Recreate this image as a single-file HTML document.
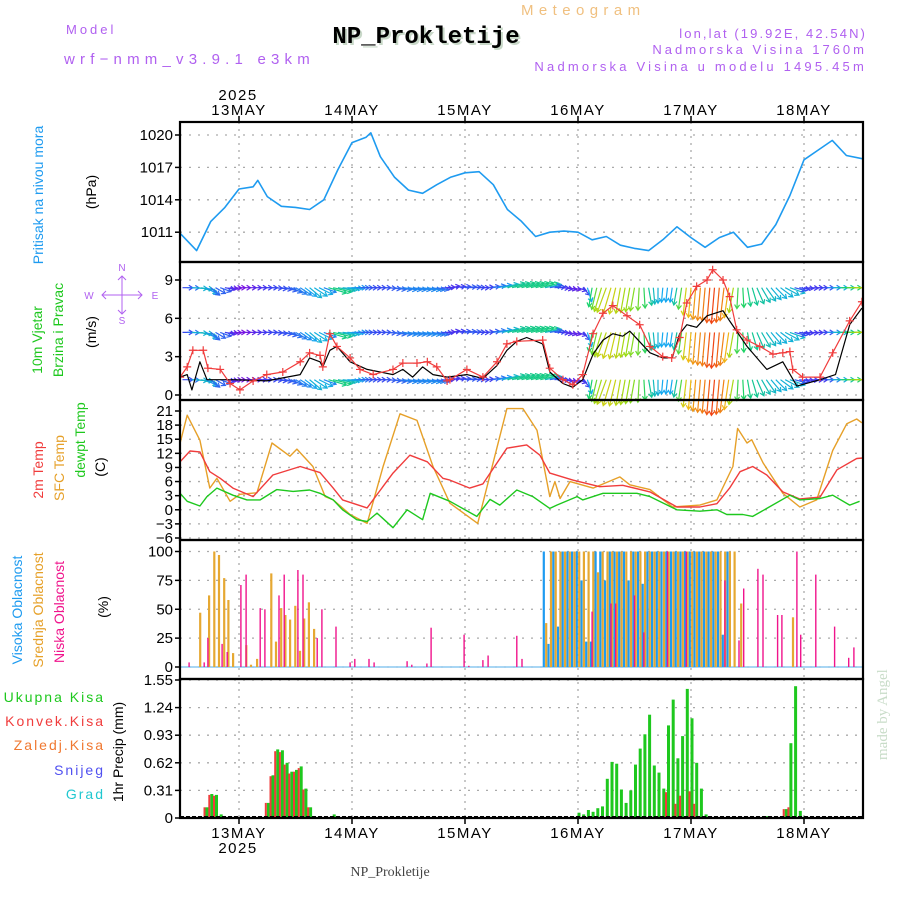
<!DOCTYPE html>
<html><head><meta charset="utf-8"><style>
html,body{margin:0;padding:0;background:#fff;}
svg{display:block;font-family:"Liberation Sans",sans-serif;}
</style></head><body>
<svg id="chart" width="900" height="900" viewBox="0 0 900 900">
<defs><clipPath id="plotclip"><rect x="180" y="122" width="683" height="696"/></clipPath></defs>
<g>
<text x="66" y="34" font-size="13" fill="#b060f0" letter-spacing="3">Model</text>
<text x="64" y="64" font-size="15" fill="#b060f0" letter-spacing="5.2">wrf−nmm_v3.9.1 e3km</text>
<text x="521" y="15" font-size="15" fill="#f0c080" letter-spacing="5.4">Meteogram</text>
<text x="428" y="45" font-size="24" font-weight="bold" text-anchor="middle" fill="#c8d8c8" font-family="Liberation Mono, monospace">NP_Prokletije</text>
<text x="426" y="43" font-size="24" font-weight="bold" text-anchor="middle" fill="#000" font-family="Liberation Mono, monospace">NP_Prokletije</text>
<text x="867" y="38" font-size="13" fill="#b060f0" text-anchor="end" letter-spacing="2.1">lon,lat (19.92E, 42.54N)</text>
<text x="867" y="54" font-size="13" fill="#b060f0" text-anchor="end" letter-spacing="3">Nadmorska Visina 1760m</text>
<text x="867" y="71" font-size="13" fill="#b060f0" text-anchor="end" letter-spacing="3.2">Nadmorska Visina u modelu 1495.45m</text>
<text x="238" y="100" font-size="15" fill="#000" text-anchor="middle" letter-spacing="1.5">2025</text>
<text x="238" y="853" font-size="15" fill="#000" text-anchor="middle" letter-spacing="1.5">2025</text>
<text x="390" y="876" font-size="14" fill="#444" text-anchor="middle" font-family="Liberation Serif, serif">NP_Prokletije</text>
<text transform="translate(887,760) rotate(-90)" font-size="15" fill="#c8dcc8" font-family="Liberation Serif, serif">made by Angel</text>
</g>
<g>
<text transform="translate(43,195) rotate(-90)" font-size="14" fill="#1e9bf0" text-anchor="middle">Pritisak na nivou mora</text>
<text transform="translate(96,192) rotate(-90)" font-size="14" fill="#000" text-anchor="middle">(hPa)</text>
<text transform="translate(42,340) rotate(-90)" font-size="14" fill="#1ec81e" text-anchor="middle">10m Vjetar</text>
<text transform="translate(63,330) rotate(-90)" font-size="14" fill="#1ec81e" text-anchor="middle">Brzina i Pravac</text>
<text transform="translate(96,332) rotate(-90)" font-size="14" fill="#000" text-anchor="middle">(m/s)</text>
<g fill="#b060f0" font-size="10" text-anchor="middle">
<text x="122" y="271">N</text><text x="122" y="324">S</text><text x="89" y="299">W</text><text x="155" y="299">E</text>
<path d="M122 276 V314 M102 295 H142 M118 280 L122 276 L126 280 M118 310 L122 314 L126 310 M106 291 L102 295 L106 299 M138 291 L142 295 L138 299" stroke="#b060f0" stroke-width="1" fill="none"/>
</g>
<text transform="translate(43,470) rotate(-90)" font-size="14" fill="#f03c3c" text-anchor="middle">2m Temp</text>
<text transform="translate(64,468) rotate(-90)" font-size="14" fill="#e6a028" text-anchor="middle">SFC Temp</text>
<text transform="translate(85,440) rotate(-90)" font-size="14" fill="#1ec81e" text-anchor="middle">dewpt Temp</text>
<text transform="translate(105,467) rotate(-90)" font-size="14" fill="#000" text-anchor="middle">(C)</text>
<text transform="translate(22,610) rotate(-90)" font-size="14" fill="#1e9bf0" text-anchor="middle">Visoka Oblacnost</text>
<text transform="translate(43,610) rotate(-90)" font-size="14" fill="#e6a028" text-anchor="middle">Srednja Oblacnost</text>
<text transform="translate(64,612) rotate(-90)" font-size="14" fill="#f0148c" text-anchor="middle">Niska Oblacnost</text>
<text transform="translate(108,607) rotate(-90)" font-size="14" fill="#000" text-anchor="middle">(%)</text>
<text x="105" y="702" font-size="14" fill="#1ec81e" text-anchor="end" letter-spacing="2">Ukupna  Kisa</text>
<text x="105" y="726" font-size="14" fill="#f03c3c" text-anchor="end" letter-spacing="2">Konvek.Kisa</text>
<text x="105" y="750" font-size="14" fill="#f07830" text-anchor="end" letter-spacing="2">Zaledj.Kisa</text>
<text x="105" y="775" font-size="14" fill="#5050f0" text-anchor="end" letter-spacing="2">Snijeg</text>
<text x="105" y="799" font-size="14" fill="#20c8d0" text-anchor="end" letter-spacing="2">Grad</text>
<text transform="translate(123,752) rotate(-90)" font-size="14" fill="#000" text-anchor="middle">1hr Precip (mm)</text>
</g>
</svg>
<script>
// ---- data ----
const dayHours = [0,24,48,72,96,120];
const dayLabels = ["13MAY","14MAY","15MAY","16MAY","17MAY","18MAY"];
const pTicks = [1011,1014,1017,1020];
const wTicks = [0,3,6,9];
const tTicks = [-6,-3,0,3,6,9,12,15,18,21];
const cTicks = [0,25,50,75,100];
const rTicks = [0,0.31,0.62,0.93,1.24,1.55];

const pressT = [-12.5,-9,-6,-3,0,3,4,6,9,12,15,18,21,24,27,28,30,33,36,39,42,45,48,51,54,57,60,63,66,69,72,75,78,81,84,87,90,93,96,99,102,105,108,111,114,117,120,123,126,129,132.5];
const pressV = [1010.9,1009.3,1012,1013.3,1015,1015.2,1015.8,1014.3,1013.4,1013.3,1013.1,1014,1016.8,1019.3,1019.8,1020.2,1018,1016.1,1014.9,1014.6,1015.4,1016.1,1016.5,1016.6,1015.4,1013.1,1012,1010.6,1011,1011.1,1011,1010.3,1010.6,1009.8,1009.5,1009.3,1010.3,1011.5,1010.5,1009.6,1010.5,1011,1009.6,1009.9,1011.7,1014.4,1017.7,1018.6,1019.5,1018.1,1017.8];

const windT = [-12.5,-11,-9.8,-7.6,-6.6,-4,-1.9,0.2,3,5.9,9.3,13,15,17.2,17.8,19.3,20.8,23.6,25.7,28.5,32.7,34.8,37.8,40,42,44.2,44.8,48.4,51.8,54.8,56.9,59,64.5,66,68.8,70.9,73,75.2,77.3,79.4,82.4,85.1,87.3,90,91.9,93.6,95.1,97.2,99.4,100.6,102.8,104.2,105.7,107.9,110.6,113.4,115.5,117,117.6,119.7,123.4,126.1,129.7,132.3];
const windV = [1.4,2.2,3.5,3.5,2.1,2.0,0.9,0.4,1.1,1.6,1.8,2.6,3.3,3.1,2.2,4.8,3.8,2.9,2.0,1.6,2.0,2.5,2.5,2.6,2.2,1.1,1.2,2.0,1.4,2.6,4.0,4.2,4.3,2.1,1.2,0.8,1.6,4.8,6.4,7.0,6.2,5.5,3.8,3.0,2.9,4.5,7.2,8.5,9.0,9.8,9.0,7.7,5.1,4.3,3.8,3.2,3.3,3.4,2.0,1.4,1.4,3.3,5.8,7.3];
const wind2T = [-12.5,-11,-10,-8.3,-6.8,-1.3,5.9,13,15,17.2,17.8,19.3,20.8,23.6,27.2,32.7,34.8,36.9,39,41.2,44.2,48.4,51.8,54.8,56.9,59,61.1,64.5,66,68.8,70.9,73,75.2,77.3,79.4,81.5,83,87.3,90,92,93.6,95.1,97.2,99.4,102.8,104.2,107.9,112.1,115.5,118.5,123.4,126.7,129.7,132.3];
const wind2V = [1.4,1.6,0.4,2.6,1.2,1.2,1.1,1.6,2.9,2.6,2.2,3.5,3.8,2.6,2.0,1.6,2.0,1.4,2.2,1.6,1.4,1.6,1.3,2.3,3.5,4.2,4.5,4.0,1.8,0.9,0.6,1.2,3.2,4.3,4.8,4.6,5.0,3.3,2.9,2.9,4.8,5.5,5.3,6.2,6.6,5.8,3.8,2.0,2.6,0.7,1.2,1.6,5.5,6.8];
const dirT = [-12,-9,-6,-3,0,3,6,9,12,15,18,21,24,27,30,33,36,39,42,45,48,51,54,57,60,63,66,69,72,75,78,81,84,87,90,93,96,99,102,105,108,111,114,117,120,123,126,129,132];
const dirV = [0,5,40,10,0,0,0,10,30,40,20,10,0,0,0,10,10,10,10,-10,-5,0,-10,-15,-15,-15,-10,10,20,100,110,100,100,80,95,100,95,95,95,100,80,60,45,20,5,0,0,0,0];
const arrowRows = [8.4,4.9,1.2];

const t2mT = [-12.5,-10.4,-8.3,-6.2,-4,-1.3,3,7.2,13,17.2,20,22,27.2,32.7,36.3,40,43.3,44.8,49,51.8,56.9,61.1,63.9,66,70.9,76.6,81.5,87.3,93,97.9,101.5,104.2,106.4,109.1,112.1,115.5,119.1,123.4,127,131.2,132.5];
const t2mV = [10.2,12.5,12.3,8.1,6.7,4.6,2.8,7.4,9.2,7.9,4.6,2.1,0.4,7.8,11.6,10.2,6.7,6.3,4.6,5.5,13.1,13.8,11.6,7.8,6.3,4.9,5.2,3.8,0.6,0.6,1.3,4.6,8.1,9.2,7.4,3.8,2.3,2.7,8.5,10.9,11];
const sfcT = [-12.5,-11,-8.3,-6.2,-4.7,-1.9,0.2,3.8,7,10.8,12.3,15.7,18.3,20,23.6,27.2,30.6,34.2,37.8,41.2,44.8,50.7,56.9,60.3,63.3,66,67.1,68.2,70.3,75.2,80.9,83,87.3,92.1,97.9,101.5,104.9,105.9,107.9,108.9,111.3,115.5,119.1,122.7,126.1,129.1,131.2,132.3];
const sfcV = [14.2,20.1,14.8,4.6,6.7,1.8,3.3,3.6,14.2,11.4,12.9,9.2,2.8,2.1,-1,-2.9,9.2,20.4,19,9.2,1.4,-2.9,21.5,21.5,16.9,2.8,6,2.4,6,4.6,7,5.3,4.3,0.6,1,2.1,9.2,17.3,14.2,14.9,10,3.5,0.6,2.1,12.6,18.3,19.3,18.5];
const dewT = [-12.5,-11,-8.3,-6.8,-4.7,-1.3,1.7,4.5,8,11.5,15,17.2,20,22,25,27.2,29.3,32.7,35.7,39,40.6,44.8,50.5,53.3,55.4,59,62.4,66,67.5,71.8,73,77.3,84.5,87.3,93,97.9,101.5,103.6,107,109.1,112.1,117,119.1,123.4,126.1,129.7,131.8];
const dewV = [3.5,1.8,0.8,2.8,4.6,3.1,2.1,2.1,4.3,3.9,4.2,3.5,2.1,0,-2.1,-2.5,-0.7,-3.8,0,-2.1,3.5,1.8,-1.4,2.2,1,4.2,2.8,0.3,1,2.8,2.1,3.5,3.5,2.8,0,-0.3,0,-1,-1,-1.4,0.3,3.1,2.1,2.4,3.1,1,1.8];

const highT = [65,66,67,68,69,70,71,72,73,74,75,76,77,78,79,80,81,82,83,84,85,86,87,88,89,90,91,92,93,94,95,96,97,98,99,100,101,102,103,104];
const highV = [100,20,100,35,100,100,100,100,75,22,22,100,100,75,100,100,100,100,75,100,100,72,100,100,100,100,100,100,100,100,100,100,100,100,100,100,100,100,28,100];
const midT = [-8.5,-6.6,-5.5,-4.5,-3.4,-2.5,-1.5,1.3,2.3,3.6,6.6,7.6,8.7,9.6,10.6,11.7,12.7,13.6,14.6,15.7,65,66,67,68,69,70,71,72,73,74,75,76,77,78,79,80,81,82,83,84,85,86,87,88,89,90,91,92,93,94,95,96,97,98,99,100,101,102,103,104,105,106.4,117.4];
const midV = [47,62,100,97,77,58,12,19,2,7,81,22,51,45,41,53,14,42,56,33,38,100,100,100,100,100,100,100,100,100,100,82,100,100,100,100,100,100,100,100,100,100,100,100,100,100,100,100,100,100,100,100,100,100,100,100,100,100,100,100,100,55,43];
const lowT = [-10.6,-7.4,-6.6,-3.6,-2.5,0.4,1.5,4.5,5.5,8.5,9.6,12.5,13.6,16.6,17.6,20.6,23.6,24.6,27.6,28.7,35.7,36.7,39.9,40.8,47.8,48.8,51.8,52.9,59,60.1,75,79,80,84,86,91,95,103.2,106.2,107.2,110.2,111.3,114.4,115.3,118.5,119.3,122.5,126.5,129.5,130.6];
const lowV = [4,4,25,20,13,71,80,51,50,62,80,84,80,25,50,35,4,7,7,4,5,2,3,34,28,1,6,10,27,7,48,55,55,62,30,100,100,75,23,68,85,80,45,45,100,28,80,35,8,17];

const rainT = [-7,-6,-5,-4,6,7,8,9,10,11,12,13,14,15,20,72,73,74,75,76,77,78,79,80,81,82,83,84,85,86,87,88,89,90,91,92,93,94,95,96,97,98,99,101,112,116,117,118,119,120];
const rainV = [0.12,0.27,0.26,0.04,0.17,0.48,0.77,0.76,0.62,0.52,0.54,0.58,0.33,0.12,0.04,0.06,0.04,0.09,0.07,0.11,0.13,0.44,0.63,0.61,0.32,0.17,0.31,0.6,0.78,0.94,1.16,0.59,0.51,0.33,1.04,1.33,0.67,0.92,1.45,1.12,0.62,0.33,0.04,0.01,0.02,0.1,0.84,1.48,0.08,0.02];
const convT = [-7,-6,-5,6,7,8,9,10,11,12,13,14,15,91,93,94,96,97,116,117];
const convV = [0.12,0.26,0.25,0.17,0.47,0.75,0.74,0.6,0.5,0.52,0.56,0.32,0.12,0.29,0.16,0.25,0.3,0.16,0.1,0.12];

// ---- scales ----
const X0 = 239, PXH = 113/24, LEFT = 180, RIGHT = 863;
function xt(t){ return X0 + t*PXH; }
function lin(v0,y0,v1,y1){ return v => y0 + (v - v0)*(y1 - y0)/(v1 - v0); }
const yP = lin(1011,232.2,1020,135);
const yW = lin(0,395,9,280);
const yT = lin(-6,538,21,411);
const yC = lin(0,667,100,551.5);
const yR = lin(0,818,1.55,680);
const panels = [[122,262],[262,400],[400,540],[540,679],[679,818]];

const NS = "http://www.w3.org/2000/svg";
const svg = document.getElementById("chart");
function mk(tag, attrs, parent){
  const el = document.createElementNS(NS, tag);
  for (const k in attrs) el.setAttribute(k, attrs[k]);
  (parent || svg).appendChild(el);
  return el;
}
function interp(ts, vs, t){
  if (t <= ts[0]) return vs[0];
  for (let i = 1; i < ts.length; i++) if (t <= ts[i]) { const f = (t - ts[i-1])/(ts[i]-ts[i-1]); return vs[i-1] + f*(vs[i]-vs[i-1]); }
  return vs[vs.length-1];
}

// ---- grid ----
const grid = mk("g", {});


function hgrid(ticks, sc, fmt, name){
  ticks.forEach(v => {
    const y = sc(v);
    const l = mk("line", {x1:LEFT, x2:RIGHT, y1:y, y2:y, stroke:"#aaa", "stroke-width":1.3, "stroke-dasharray":"2,7"}, grid);
    
    
    const tk = mk("line", {x1:LEFT-5, x2:LEFT, y1:y, y2:y, stroke:"#000", "stroke-width":1.5}, grid);
    
    
    const tx = mk("text", {x:LEFT-7, y:y+5, "font-size":15, "text-anchor":"end", fill:"#000"}, grid);
    
    
    tx.textContent = fmt(v);
  });
}
hgrid(pTicks, yP, v => String(v), "pressure");
hgrid(wTicks, yW, v => String(v), "wind");
hgrid(tTicks, yT, v => v < 0 ? "−" + Math.abs(v) : String(v), "temp");
hgrid(cTicks, yC, v => String(v), "cloud");
hgrid(rTicks, yR, v => v === 0 ? "0" : v.toFixed(2), "precip");
dayHours.forEach((h, i) => {
  const x = xt(h);
  const l = mk("line", {x1:x, x2:x, y1:122, y2:818, stroke:"#aaa", "stroke-width":1.3, "stroke-dasharray":"2,5"}, grid);
  
  
  const t1 = mk("line", {x1:x, x2:x, y1:116, y2:122, stroke:"#000", "stroke-width":1.5}, grid);
  
  
  const t2 = mk("line", {x1:x, x2:x, y1:818, y2:824, stroke:"#000", "stroke-width":1.5}, grid);
  
  
  const a = mk("text", {x:x, y:115, "font-size":15, "text-anchor":"middle", fill:"#000", "letter-spacing":1.5}, grid);
  
  
  a.textContent = dayLabels[i];
  const b = mk("text", {x:x, y:838, "font-size":15, "text-anchor":"middle", fill:"#000", "letter-spacing":1.5}, grid);
  
  
  b.textContent = dayLabels[i];
});

const plot = mk("g", {"clip-path":"url(#plotclip)"});



function clipT(t){ return Math.max(-12.5, Math.min(132.5, t)); }
function polyline(ts, vs, sc, color, name, w){
  const pts = ts.map((t,i) => xt(clipT(t)).toFixed(1) + "," + sc(vs[i]).toFixed(1)).join(" ");
  const p = mk("polyline", {points:pts, fill:"none", stroke:color, "stroke-width":w || 1.5, "stroke-linejoin":"round"}, plot);
  
  
  return p;
}

// ---- pressure ----
polyline(pressT, pressV, yP, "#1e9bf0", "pressure-line", 1.6);

// ---- wind arrows ----
function windColor(s){
  const stops = [[0,[150,0,220]],[1.5,[60,60,240]],[3,[20,170,240]],[4.5,[20,210,110]],[6,[150,220,20]],[7.5,[240,200,20]],[9,[240,120,20]],[10,[240,40,20]]];
  for (let i = 1; i < stops.length; i++) if (s <= stops[i][0]) { const f = (s - stops[i-1][0])/(stops[i][0]-stops[i-1][0]); const c = stops[i-1][1].map((v,k)=>Math.round(v + f*(stops[i][1][k]-v))); return "rgb(" + c.join(",") + ")"; }
  return "rgb(240,40,20)";
}
const arrowsG = mk("g", {}, plot);


arrowRows.forEach(lv => {
  const y0 = yW(lv);
  for (let t = -12; t <= 132; t += 1) {
    const s = interp(windT, windV, t);
    const d = interp(dirT, dirV, t) * Math.PI/180;
    const len = 5 + s*3.2;
    const x0 = xt(t), x1 = x0 + Math.cos(d)*len, y1 = y0 + Math.sin(d)*len;
    const c = windColor(s);
    const hx = Math.cos(d), hy = Math.sin(d);
    const pth = "M" + x0.toFixed(1) + " " + y0.toFixed(1) + " L" + x1.toFixed(1) + " " + y1.toFixed(1) +
      " M" + (x1 - 4*hx - 2.5*hy).toFixed(1) + " " + (y1 - 4*hy + 2.5*hx).toFixed(1) + " L" + x1.toFixed(1) + " " + y1.toFixed(1) +
      " L" + (x1 - 4*hx + 2.5*hy).toFixed(1) + " " + (y1 - 4*hy - 2.5*hx).toFixed(1);
    const a = mk("path", {d:pth, stroke:c, "stroke-width":1.2, fill:"none"}, arrowsG);
    
    
  }
});
polyline(wind2T, wind2V, yW, "#000", "wind-speed-mean-line", 1.2);
polyline(windT, windV, yW, "#f03c3c", "wind-speed-line", 1.2);
windT.forEach((t,i) => {
  const x = xt(clipT(t)), y = yW(windV[i]);
  const m = mk("path", {d:"M"+(x-4)+" "+y+" H"+(x+4)+" M"+x+" "+(y-4)+" V"+(y+4), stroke:"#f03c3c", "stroke-width":1.2}, plot);
  
  
});

// ---- temperature ----
polyline(sfcT, sfcV, yT, "#e6a028", "sfc-temp-line", 1.4);
polyline(t2mT, t2mV, yT, "#f03c3c", "temp-2m-line", 1.4);
polyline(dewT, dewV, yT, "#1ec81e", "dewpoint-line", 1.4);

// ---- clouds ----
const cloudG = mk("g", {}, plot);


function cbars(ts, vs, color, off, w, name){
  ts.forEach((t,i) => {
    const x = xt(t) + off, y = yC(vs[i]);
    const r = mk("rect", {x:(x - w/2).toFixed(1), y:y.toFixed(1), width:w, height:(yC(0)-y).toFixed(1), fill:color}, cloudG);
    
    
  });
}
const zl = mk("line", {x1:LEFT, x2:RIGHT, y1:yC(0), y2:yC(0), stroke:"#8cc8f0", "stroke-width":1.5}, cloudG);


cbars(highT, highV, "#1e9bf0", -1.2, 2.2, "high-cloud-bar");
cbars(midT, midV, "#e6a832", 1.2, 2.2, "mid-cloud-bar");
cbars(lowT, lowV, "#f0148c", 0, 1.4, "low-cloud-bar");

// ---- precip ----
const rainG = mk("g", {}, plot);


rainT.forEach((t,i) => {
  const x = xt(t), y = yR(rainV[i]);
  const r = mk("rect", {x:(x - 0.5).toFixed(1), y:y.toFixed(1), width:3, height:(818-y).toFixed(1), fill:"#1ec81e"}, rainG);
  
  
});
convT.forEach((t,i) => {
  const x = xt(t), y = yR(convV[i]);
  const r = mk("rect", {x:(x - 2.5).toFixed(1), y:y.toFixed(1), width:2, height:(818-y).toFixed(1), fill:"#f03c3c"}, rainG);
  
  
});
const pz = mk("line", {x1:LEFT, x2:RIGHT, y1:817, y2:817, stroke:"#000", "stroke-width":2, "stroke-dasharray":"4,2"}, rainG);



// ---- frames ----
panels.forEach((p, i) => {
  const r = mk("rect", {x:LEFT, y:p[0], width:RIGHT-LEFT, height:p[1]-p[0], fill:"none", stroke:"#000", "stroke-width":2.2});
  
  
});
</script>
</body></html>
